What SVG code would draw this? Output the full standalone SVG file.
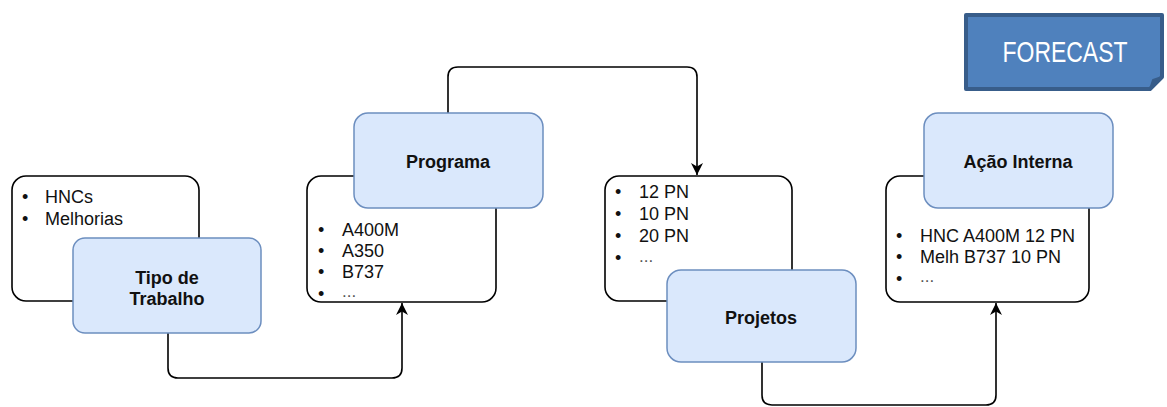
<svg xmlns="http://www.w3.org/2000/svg" width="1167" height="407" viewBox="0 0 1167 407">
  <defs>
    <marker id="arrow" viewBox="0 0 13 13" refX="12" refY="6.5" markerWidth="13" markerHeight="13" markerUnits="userSpaceOnUse" orient="auto">
      <path d="M0,0.5 L12,6.5 L0,12.5 L3.5,6.5 Z" fill="#000"/>
    </marker>
    <style>
      .list { fill: #ffffff; stroke: #000000; stroke-width: 1.6; }
      .card { fill: #dae8fc; stroke: #6c8ebf; stroke-width: 1.5; }
      .item { font-family: "Liberation Sans", Arial, sans-serif; font-size: 18px; fill: #111; }
      .dots { font-family: "Liberation Sans", Arial, sans-serif; font-size: 17px; fill: #555; }
      .title { font-family: "Liberation Sans", Arial, sans-serif; font-size: 18px; font-weight: bold; fill: #111; text-anchor: middle; }
      .edge { fill: none; stroke: #000; stroke-width: 1.6; marker-end: url(#arrow); }
    </style>
  </defs>

  <rect width="1167" height="407" fill="#ffffff"/>

  <!-- connectors -->
  <g id="connectors">
    <path class="edge" d="M168,333 V368 Q168,378 178,378 H392 Q402,378 402,368 V303"/>
    <path class="edge" d="M448,113 V77 Q448,67 458,67 H687 Q697,67 697,77 V175"/>
    <path class="edge" d="M762,362 V395 Q762,405 772,405 H986 Q996,405 996,395 V303"/>
  </g>

  <!-- work type -->
  <g id="tipo-trabalho">
    <rect class="list" x="12" y="176" width="187" height="125" rx="14"/>
    <text class="item" x="22" y="203">•</text><text class="item" x="45" y="203">HNCs</text>
    <text class="item" x="22" y="225">•</text><text class="item" x="45" y="225">Melhorias</text>
    <rect class="card" x="73" y="238" width="188" height="95" rx="12"/>
    <text class="title" x="167" y="284">Tipo de</text>
    <text class="title" x="167" y="305">Trabalho</text>
  </g>

  <!-- programme -->
  <g id="programa">
    <rect class="list" x="307" y="176" width="189" height="126" rx="14"/>
    <text class="item" x="318" y="236">•</text><text class="item" x="342" y="236">A400M</text>
    <text class="item" x="318" y="257">•</text><text class="item" x="342" y="257">A350</text>
    <text class="item" x="318" y="278">•</text><text class="item" x="342" y="278">B737</text>
    <text class="item" x="318" y="300">•</text><text class="dots" x="342" y="297">...</text>
    <rect class="card" x="354" y="113" width="189" height="95" rx="14"/>
    <text class="title" x="448" y="168">Programa</text>
  </g>

  <!-- projects -->
  <g id="projetos">
    <rect class="list" x="605" y="176" width="187" height="125" rx="14"/>
    <text class="item" x="615" y="198">•</text><text class="item" x="639" y="198">12 PN</text>
    <text class="item" x="615" y="220">•</text><text class="item" x="639" y="220">10 PN</text>
    <text class="item" x="615" y="242">•</text><text class="item" x="639" y="242">20 PN</text>
    <text class="item" x="615" y="264">•</text><text class="dots" x="639" y="262">...</text>
    <rect class="card" x="667" y="270" width="189" height="92" rx="14"/>
    <text class="title" x="761" y="324">Projetos</text>
  </g>

  <!-- internal action -->
  <g id="acao-interna">
    <rect class="list" x="886" y="176" width="203" height="126" rx="14"/>
    <text class="item" x="896" y="242">•</text><text class="item" x="920" y="242">HNC A400M 12 PN</text>
    <text class="item" x="896" y="263">•</text><text class="item" x="920" y="263">Melh B737 10 PN</text>
    <text class="item" x="896" y="285">•</text><text class="dots" x="920" y="282">...</text>
    <rect class="card" x="924" y="113" width="189" height="95" rx="14"/>
    <text class="title" x="1018" y="168">Ação Interna</text>
  </g>

  <!-- forecast badge -->
  <g id="forecast">
    <path d="M966,15 H1162 V77 L1150,89 H966 Z" fill="#4f81bd" stroke="#385d8a" stroke-width="4" stroke-linejoin="round"/>
    <path d="M1150,89 L1153,80 L1162,77 Z" fill="#385d8a" stroke="#385d8a" stroke-width="2" stroke-linejoin="round"/>
    <text x="1065" y="62" font-family="Liberation Sans, Arial, sans-serif" font-size="30" fill="#ffffff" text-anchor="middle" textLength="125" lengthAdjust="spacingAndGlyphs">FORECAST</text>
  </g>
</svg>
